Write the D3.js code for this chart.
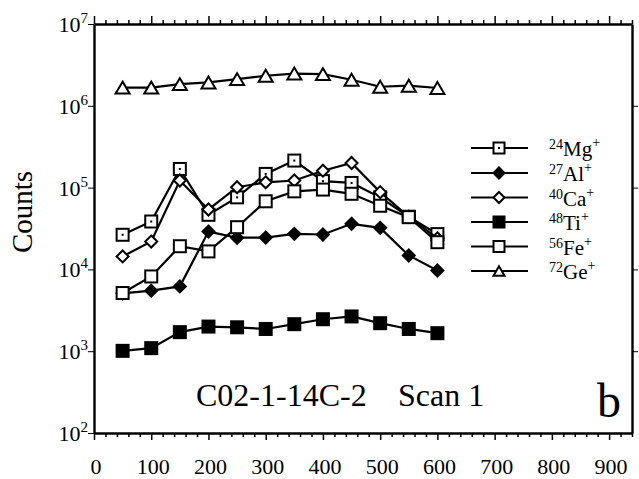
<!DOCTYPE html>
<html>
<head>
<meta charset="utf-8">
<script src="https://cdn.jsdelivr.net/npm/d3@7"></script>
<style>
  body { margin: 0; background: #fff; }
  svg text { font-family: "Liberation Serif", "DejaVu Serif", serif; fill: #000; }
</style>
</head>
<body>
<div class="scan-chart"></div>
<script>
// sputter depth (x) and counts per isotope
var depth = [50, 100, 150, 200, 250, 300, 350, 400, 450, 500, 550, 600];
var mg24 = [26500, 38500, 169000, 46500, 76000, 147000, 214000, 120000, 114000, 76000, 44000, 27000];
var al27 = [5100, 5500, 6200, 29000, 24400, 24500, 27200, 26700, 36100, 32200, 14800, 9700];
var ca40 = [14400, 21900, 122000, 54000, 101000, 116000, 122000, 161000, 200000, 88000, 44000, 24000];
var ti48 = [1010, 1090, 1710, 2000, 1960, 1870, 2140, 2460, 2660, 2200, 1870, 1660];
var fe56 = [5140, 8200, 19200, 16600, 32800, 68000, 90000, 94600, 84000, 60000, 43500, 21500];
var ge72 = [1670000, 1670000, 1840000, 1930000, 2120000, 2330000, 2480000, 2440000, 2080000, 1710000, 1760000, 1650000];

var masses = ["24", "27", "40", "48", "56", "72"];
var elements = ["Mg", "Al", "Ca", "Ti", "Fe", "Ge"];
var xTicks = [0, 100, 200, 300, 400, 500, 600, 700, 800, 900];
var yExponents = [2, 3, 4, 5, 6, 7];
var title = "C02-1-14C-2";
var subtitle = "Scan 1";
var panel = "b";

var series = [
  { vals: mg24, marker: "dotsquare" },
  { vals: al27, marker: "fdiamond" },
  { vals: ca40, marker: "odiamond" },
  { vals: ti48, marker: "fsquare" },
  { vals: fe56, marker: "osquare" },
  { vals: ge72, marker: "otriangle" }
];

var width = 639, height = 479;

var svg = d3.select(".scan-chart").append("svg")
    .attr("width", width)
    .attr("height", height);

var x = d3.scaleLinear().domain([0, 940]).range([94, 632]);
var y = d3.scaleLog().domain([1e2, 1e7]).range([433, 24]);

// frame axes
var minorX = d3.range(0, 941, 20);

svg.append("g")
    .attr("transform", "translate(0," + y(1e2) + ")")
    .call(d3.axisBottom(x).tickValues(minorX).tickSize(4).tickSizeOuter(0).tickFormat(""))
    .call(function(g) { g.selectAll(".tick line").attr("stroke-width", 1.5).attr("y2", function(d) { return d % 100 === 0 ? 7 : 4; }); });

svg.append("g")
    .attr("transform", "translate(0," + y(1e7) + ")")
    .call(d3.axisTop(x).tickValues(minorX).tickSize(4).tickSizeOuter(0).tickFormat(""))
    .call(function(g) { g.selectAll(".tick line").attr("stroke-width", 1.5).attr("y2", function(d) { return d % 100 === 0 ? -8 : -4; }); });

svg.append("g")
    .attr("transform", "translate(" + x(0) + ",0)")
    .call(d3.axisLeft(y).tickValues(yExponents.map(function(e) { return Math.pow(10, e); })).tickSize(6).tickSizeOuter(0).tickFormat(""));

svg.append("g")
    .attr("transform", "translate(" + x(940) + ",0)")
    .call(d3.axisLeft(y).tickValues([1e3, 1e4, 1e5, 1e6]).tickSize(6).tickSizeOuter(0).tickFormat(""))
    .call(function(g) { g.selectAll(".tick line").attr("x2", 6); });

svg.selectAll(".domain").attr("stroke", "#000").attr("stroke-width", 2.4);
svg.selectAll(".tick line").attr("stroke", "#000");

// x tick labels
svg.append("g").selectAll("text")
    .data(xTicks)
    .enter().append("text")
    .attr("x", function(d) { return x(d) + 2; })
    .attr("y", 474)
    .attr("text-anchor", "middle")
    .style("font-size", "22px")
    .text(function(d) { return d; });

// y tick labels 10^n
var ylab = svg.append("g").selectAll("text")
    .data(yExponents)
    .enter().append("text")
    .attr("x", 88)
    .attr("y", function(d) { return y(Math.pow(10, d)) + 8; })
    .attr("text-anchor", "end")
    .style("font-size", "22px");
ylab.append("tspan").text("10");
ylab.append("tspan").attr("dy", -9).style("font-size", "15px").text(function(d) { return d; });

svg.append("text")
    .attr("transform", "translate(32,212) rotate(-90)")
    .attr("text-anchor", "middle")
    .style("font-size", "29px")
    .text("Counts");

svg.append("text").attr("x", 196).attr("y", 406).style("font-size", "32px").text(title);
svg.append("text").attr("x", 398).attr("y", 406).style("font-size", "32px").text(subtitle);
svg.append("text").attr("x", 597).attr("y", 417).style("font-size", "48px").text(panel);

function drawMarker(g, type, size) {
  var h = size / 2;
  if (type === "dotsquare" || type === "osquare" || type === "fsquare") {
    g.append("rect")
        .attr("x", -h).attr("y", -h).attr("width", size).attr("height", size)
        .attr("fill", type === "fsquare" ? "#000" : "#fff")
        .attr("stroke", "#000").attr("stroke-width", 2);
    if (type === "dotsquare") {
      g.append("rect").attr("x", -1).attr("y", -1).attr("width", 2).attr("height", 2).attr("fill", "#000");
    }
  } else if (type === "fdiamond" || type === "odiamond") {
    g.append("path")
        .attr("d", "M0," + (-h) + "L" + h + ",0L0," + h + "L" + (-h) + ",0Z")
        .attr("fill", type === "fdiamond" ? "#000" : "#fff")
        .attr("stroke", "#000").attr("stroke-width", 2);
  } else {
    var t = h * 0.85;
    g.append("path")
        .attr("d", "M0," + (-t) + "L" + h + "," + t + "L" + (-h) + "," + t + "Z")
        .attr("fill", "#fff")
        .attr("stroke", "#000").attr("stroke-width", 2);
  }
}

var line = d3.line()
    .x(function(d, i) { return x(depth[i]); })
    .y(function(d) { return y(d); });

series.forEach(function(s) {
  var g = svg.append("g");
  g.append("path")
      .datum(s.vals)
      .attr("d", line)
      .attr("fill", "none")
      .attr("stroke", "#000")
      .attr("stroke-width", 2.2);
  g.selectAll("g.pt")
      .data(s.vals)
      .enter().append("g")
      .attr("class", "pt")
      .attr("transform", function(d, i) { return "translate(" + x(depth[i]) + "," + y(d) + ")"; })
      .each(function() { drawMarker(d3.select(this), s.marker, s.marker === "otriangle" ? 14 : 12); });
});

// legend
var legendY = [148, 173, 197.5, 222, 246.5, 271];
series.forEach(function(s, i) {
  var lg = svg.append("g").attr("transform", "translate(0," + legendY[i] + ")");
  lg.append("line").attr("x1", 471).attr("x2", 528).attr("stroke", "#000").attr("stroke-width", 2);
  var m = lg.append("g").attr("transform", "translate(499,0)");
  drawMarker(m, s.marker, 11);
  var t = lg.append("text").attr("x", 549).attr("y", 8).style("font-size", "21px");
  t.append("tspan").attr("dy", -7).style("font-size", "14px").text(masses[i]);
  t.append("tspan").attr("dy", 7).text(elements[i]);
  t.append("tspan").attr("dy", -9).style("font-size", "14px").text("+");
});
</script>
</body>
</html>
